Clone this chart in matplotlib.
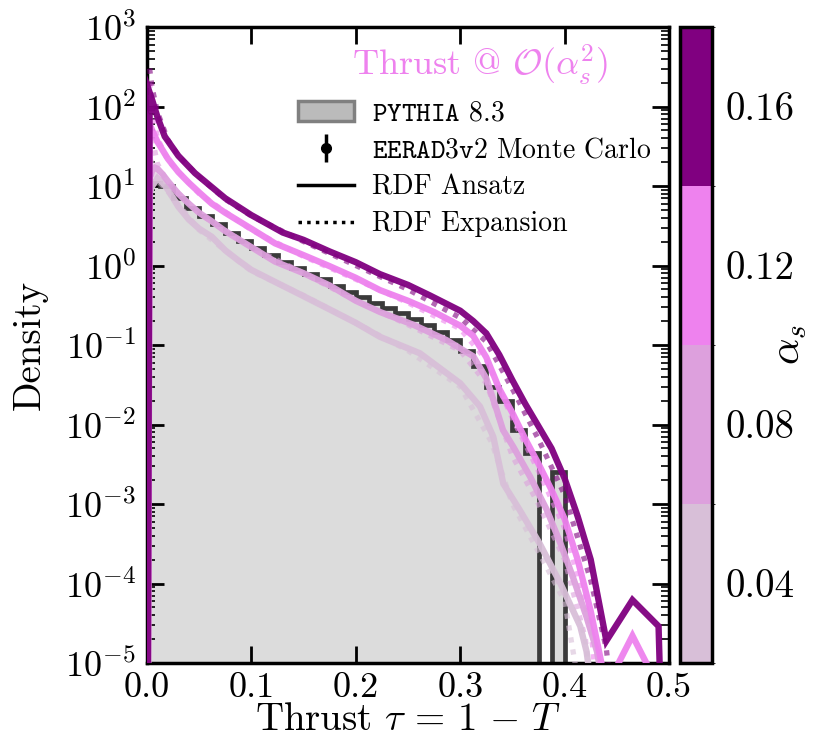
import numpy as np
import matplotlib
matplotlib.use("Agg")
import matplotlib.pyplot as plt
from matplotlib.colors import ListedColormap, BoundaryNorm
from matplotlib.patches import Patch
from matplotlib.lines import Line2D
import matplotlib.colorbar as mcb

plt.rcParams['font.family'] = ['cmr10', 'DejaVu Serif']
plt.rcParams['mathtext.fontset'] = 'cm'
plt.rcParams['axes.formatter.use_mathtext'] = True
plt.rcParams['axes.unicode_minus'] = False

# ---------------- data ----------------
# PYTHIA 8.3 histogram (bin edges 0..0.5, width 0.0125)
hist_edges = np.linspace(0.0, 0.5, 41)
pythia_vals = [11, 10, 7.0, 5.3, 4.2, 3.3, 2.6, 2.05, 1.65, 1.35,
               1.12, 0.93, 0.79, 0.67, 0.56, 0.47, 0.40, 0.34, 0.29, 0.25,
               0.215, 0.18, 0.145, 0.115, 0.085, 0.055, 0.030, 0.020, 0.0085, 0.0044,
               0, 0.0025, 0, 0, 0, 0, 0, 0, 0, 0]

alphas = [0.04, 0.08, 0.12, 0.16]
colors = ['#d8bfd8', '#dda0dd', '#ee82ee', '#800080']

# RDF Ansatz (solid)
tau_a016 = [0.0, 0.0025, 0.005, 0.01, 0.017, 0.03, 0.046, 0.075, 0.1, 0.13, 0.15, 0.175,
            0.2, 0.223, 0.25, 0.271, 0.3, 0.3125, 0.325, 0.3375, 0.35, 0.3625, 0.375,
            0.3875, 0.4, 0.4125, 0.425, 0.44, 0.465, 0.49, 0.4975]
y_a016 = [1e-9, 150, 120, 74, 42, 24, 14.5, 7.0, 4.3, 2.6, 2.1, 1.5,
          1.1, 0.78, 0.57, 0.42, 0.27, 0.20, 0.14, 0.075, 0.036, 0.018, 0.0095,
          0.0050, 0.0021, 7e-4, 2e-4, 1.9e-5, 6.2e-5, 2.9e-5, 1e-8]

tau_a012 = [0.0, 0.0025, 0.005, 0.01, 0.02, 0.03, 0.04, 0.05, 0.062, 0.075, 0.1, 0.1226,
            0.15, 0.175, 0.2, 0.2232, 0.25, 0.275, 0.3, 0.3125, 0.325, 0.3375, 0.35,
            0.3625, 0.375, 0.3875, 0.4, 0.4125, 0.425, 0.44, 0.465, 0.49, 0.4975]
y_a012 = [1e-9, 60, 50, 36, 22, 15, 11, 8.3, 6.0, 4.6, 2.9, 1.9,
          1.35, 0.98, 0.70, 0.49, 0.36, 0.26, 0.175, 0.13, 0.07, 0.028, 0.014,
          0.0065, 0.0032, 0.0015, 6.5e-4, 2e-4, 4.5e-5, 5e-6, 2.2e-5, 5e-6, 1e-9]

tau_a008 = [0.0, 0.0025, 0.005, 0.0075, 0.01, 0.015, 0.02, 0.03, 0.04, 0.05, 0.062, 0.075,
            0.1, 0.1226, 0.15, 0.175, 0.2, 0.2232, 0.255, 0.287, 0.3126, 0.325, 0.335,
            0.341, 0.351, 0.367, 0.383, 0.396, 0.408, 0.421, 0.431, 0.44]
y_a008 = [1e-9, 12, 16, 17, 16.5, 14, 11.5, 8.0, 6.0, 4.6, 3.6, 2.7,
          1.7, 1.12, 0.80, 0.56, 0.36, 0.26, 0.18, 0.115, 0.072, 0.038, 0.0152,
          0.0085, 0.0052, 0.0022, 8.4e-4, 3.2e-4, 1.2e-4, 3.8e-5, 1.4e-5, 3e-6]

tau_a004 = [0.0, 0.0025, 0.005, 0.01, 0.015, 0.02, 0.03, 0.04, 0.05, 0.062, 0.075, 0.087,
            0.1, 0.125, 0.147, 0.175, 0.2, 0.223, 0.2615, 0.3, 0.319, 0.3317, 0.3413,
            0.357, 0.376, 0.396, 0.415, 0.421, 0.43]
y_a004 = [1e-9, 8, 10, 12.5, 11, 9, 5.5, 3.8, 2.9, 2.3, 1.55, 1.17,
          0.88, 0.6, 0.43, 0.28, 0.19, 0.127, 0.0785, 0.033, 0.0168, 0.0070, 0.0018,
          8.4e-4, 3.2e-4, 1.0e-4, 2.9e-5, 1.4e-5, 2e-6]

# RDF Expansion (dotted)
tau_e016 = [0.0025, 0.005, 0.01, 0.02, 0.03, 0.05, 0.075, 0.1, 0.15, 0.2, 0.25, 0.3,
            0.325, 0.35, 0.375, 0.4, 0.425, 0.44, 0.45]
y_e016 = [300, 170, 85, 38, 24, 13, 6.8, 4.2, 2.0, 1.0, 0.5, 0.22,
          0.11, 0.028, 0.0065, 0.0013, 1.1e-4, 1.5e-5, 1e-6]
tau_e012 = [0.0025, 0.005, 0.01, 0.02, 0.05, 0.1, 0.15, 0.2, 0.25, 0.3, 0.325, 0.35,
            0.375, 0.4, 0.425, 0.435]
y_e012 = [200, 90, 40, 21, 8, 2.8, 1.3, 0.67, 0.34, 0.16, 0.065, 0.012,
          0.0026, 5e-4, 3e-5, 1e-6]
tau_e008 = [0.0025, 0.005, 0.01, 0.02, 0.05, 0.1, 0.15, 0.2, 0.25, 0.3, 0.325, 0.35,
            0.375, 0.4, 0.42, 0.43]
y_e008 = [80, 40, 19, 11, 4.5, 1.7, 0.8, 0.36, 0.18, 0.085, 0.033, 0.004,
          1e-3, 2e-4, 2e-5, 1e-6]
tau_e004 = [0.0025, 0.005, 0.01, 0.02, 0.05, 0.1, 0.15, 0.2, 0.25, 0.3, 0.33, 0.35,
            0.375, 0.4, 0.41, 0.42]
y_e004 = [30, 18, 12, 8.5, 2.8, 0.85, 0.42, 0.19, 0.085, 0.03, 0.006, 0.001,
          2.5e-4, 6e-5, 1e-5, 1e-6]

ansatz = [(tau_a004, y_a004), (tau_a008, y_a008), (tau_a012, y_a012), (tau_a016, y_a016)]
expans = [(tau_e004, y_e004), (tau_e008, y_e008), (tau_e012, y_e012), (tau_e016, y_e016)]

# ---------------- figure ----------------
fig = plt.figure(figsize=(8.19, 7.43), dpi=100)
ax = fig.add_axes([147/819, 1-663/743, 522/819, 636/743])
cax = fig.add_axes([680/819, 1-663/743, 32/819, 636/743])

# PYTHIA histogram
pv = np.array(pythia_vals, dtype=float)
pv_plot = np.where(pv > 0, pv, 1e-12)
ax.stairs(pv_plot, hist_edges, fill=True, color='#dcdcdc', zorder=1)
ax.stairs(pv_plot, hist_edges, fill=False, color='#3a3a3a', lw=3.4, zorder=2)

# curves
for (t, y), c in zip(expans, colors):
    ax.plot(t, y, color=c, lw=3.8, ls=(0, (1, 1.3)), alpha=0.6, zorder=3)
for (t, y), c in zip(ansatz, colors):
    ax.plot(t, y, color=c, lw=4.6, alpha=0.95, solid_joinstyle='miter', zorder=4)

ax.set_yscale('log')
ax.set_xlim(0, 0.5)
ax.set_ylim(1e-5, 1e3)
ax.set_xticks([0.0, 0.1, 0.2, 0.3, 0.4, 0.5])
ax.set_xticklabels(['0.0', '0.1', '0.2', '0.3', '0.4', '0.5'])
ax.tick_params(which='major', direction='in', length=12, width=2,
               top=True, right=True, pad=8)
ax.tick_params(axis='x', which='major', labelsize=26, pad=7)
ax.tick_params(axis='y', which='major', labelsize=26)
ax.tick_params(which='minor', direction='in', length=6, width=1.2, top=False, right=True)
ax.tick_params(axis='x', which='minor', bottom=False, top=False)
for s in ax.spines.values():
    s.set_linewidth(2.5)

ax.set_xlabel(r'Thrust $\tau\,=\,1\,-\,T$', fontsize=28)
ax.xaxis.set_label_coords(0.5, -0.062)
ax.set_ylabel('Density', fontsize=28)
ax.yaxis.set_label_coords(-0.19, 0.5)

ax.text(0.638, 0.94, r'Thrust @ $\mathcal{O}(\alpha_s^2)$', color='#ee82ee',
        fontsize=26, ha='center', va='center', transform=ax.transAxes)

eb = ax.errorbar([], [], yerr=[], fmt='o', color='black', ms=7, lw=2.5)
handles = [
    Patch(facecolor='#bbbbbb', edgecolor='#808080', lw=2.5),
    eb,
    Line2D([0], [0], color='black', lw=2.5),
    Line2D([0], [0], color='black', lw=2.5, ls=(0, (1, 1.5))),
]
labels = [r'$\mathtt{PYTHIA}$ 8.3', r'$\mathtt{EERAD3v2}$ Monte Carlo',
          'RDF Ansatz', 'RDF Expansion']
leg = ax.legend(handles, labels, loc='upper left', bbox_to_anchor=(0.252, 0.915),
                frameon=False, fontsize=20, handlelength=2.0, handletextpad=0.65,
                labelspacing=0.38, borderpad=0.2)

# colorbar
bounds = [0.02, 0.06, 0.10, 0.14, 0.18]
cmap = ListedColormap(colors)
norm = BoundaryNorm(bounds, cmap.N)
cb = mcb.ColorbarBase(cax, cmap=cmap, norm=norm, boundaries=bounds,
                      ticks=[0.04, 0.08, 0.12, 0.16], spacing='proportional')
cb.ax.set_yticklabels(['0.04', '0.08', '0.12', '0.16'])
cb.ax.tick_params(length=0, labelsize=28, pad=10)
cb.outline.set_linewidth(2.5)
cax.text(3.44, 0.5, r'$\alpha_s$', fontsize=30, rotation=90, ha='center', va='center',
         transform=cax.transAxes)

fig.savefig('out.png', dpi=100)
